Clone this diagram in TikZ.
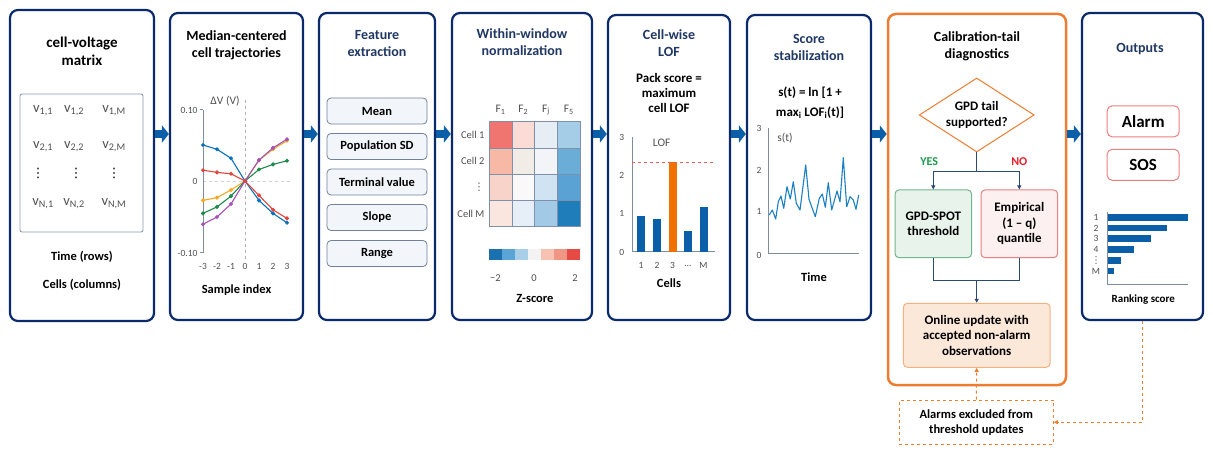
\documentclass[tikz,border=0pt]{standalone}
\usepackage{fontspec}
\setmainfont{Carlito}
\newfontfamily\symfont{DejaVu Sans}
\usetikzlibrary{arrows.meta,shapes.geometric}
\definecolor{panelnavy}{HTML}{0A2A6B}
\definecolor{titlenavy}{HTML}{1F3864}
\definecolor{flowblue}{HTML}{0B5EA8}
\definecolor{flownavy}{HTML}{2B4A72}
\definecolor{panelorange}{HTML}{ED7D31}
\definecolor{axisgrey}{HTML}{7F8CA0}
\definecolor{tickgrey}{HTML}{505050}
\definecolor{gridgrey}{HTML}{7E90AA}
\definecolor{matedge}{HTML}{8C9BB0}
\definecolor{featedge}{HTML}{6F819C}
\definecolor{featfill}{HTML}{F2F6FA}
\definecolor{cblue}{HTML}{0A72BC}
\definecolor{cred}{HTML}{E4453D}
\definecolor{corange}{HTML}{F7A823}
\definecolor{cgreen}{HTML}{1E8A4C}
\definecolor{cpurple}{HTML}{A452B8}
\definecolor{barorange}{HTML}{F07000}
\definecolor{lofred}{HTML}{EE5A5A}
\definecolor{scoreblue}{HTML}{1A80C4}
\definecolor{yesgreen}{HTML}{1E9A50}
\definecolor{nored}{HTML}{E8202A}
\definecolor{spotfill}{HTML}{E7F3EB}
\definecolor{spotedge}{HTML}{72B58B}
\definecolor{empfill}{HTML}{FDF0F0}
\definecolor{empedge}{HTML}{EC7F7F}
\definecolor{updfill}{HTML}{FCE8D8}
\definecolor{updedge}{HTML}{F4B183}
\definecolor{alarmred}{HTML}{EE8080}

\begin{document}
\begin{tikzpicture}[x=1pt,y=-1pt,font=\fontsize{11}{13}\selectfont]

%
% Styles
%
\tikzstyle{panel} = [draw=panelnavy,line width=2.2pt,rounded corners=8pt,fill=white,inner sep=0pt]
\tikzstyle{title} = [align=center,text=titlenavy,font=\fontsize{14}{17}\selectfont\bfseries]
\tikzstyle{entry} = [text=tickgrey,inner sep=1pt,font=\fontsize{14.5}{16}\selectfont]
\tikzstyle{lbl} = [font=\fontsize{12.5}{14}\selectfont\bfseries]
\tikzstyle{tick} = [text=tickgrey,font=\fontsize{9.5}{11}\selectfont]
\tikzstyle{axis} = [draw=axisgrey,line width=1pt]
\tikzstyle{zeroline} = [draw=gray!60,dashed,line width=0.7pt]
\tikzstyle{feat} = [draw=featedge,fill=featfill,rounded corners=4pt,line width=0.8pt,minimum width=100,minimum height=26,font=\fontsize{12.5}{14}\selectfont\bfseries]
\tikzstyle{heatlbl} = [text=tickgrey,font=\fontsize{10.5}{12}\selectfont]
\tikzstyle{blockarrow} = [draw=flowblue,line width=8pt,-{Triangle[length=7pt,width=17pt]}]
\tikzstyle{flow} = [draw=flownavy,line width=1.2pt]
\tikzstyle{dashline} = [draw=panelorange,dashed,line width=1pt]
\tikzstyle{step7} = [rounded corners=4pt,line width=1pt,align=center,font=\fontsize{13}{15.5}\selectfont\bfseries]
\tikzstyle{outbox} = [draw=alarmred,line width=1pt,rounded corners=5pt,minimum width=72,minimum height=31,font=\fontsize{17}{18}\selectfont\bfseries]
\tikzset{trace/.style={draw=#1,line width=1.1pt,mark=*,mark size=1.4pt,mark options={fill=#1,draw=#1}}}

\useasboundingbox (0,0) rectangle (1213,454);

% panels
\node[panel,minimum width=144,minimum height=311] (p1) at (82,165.5) {};
\node[panel,minimum width=133,minimum height=307] (p2) at (236.5,166.5) {};
\node[panel,minimum width=116,minimum height=307] (p3) at (377,166.5) {};
\node[panel,minimum width=140,minimum height=307] (p4) at (522,166.5) {};
\node[panel,minimum width=122,minimum height=305] (p5) at (669,167.5) {};
\node[panel,minimum width=124,minimum height=305] (p6) at (809,167.5) {};
\node[panel,draw=panelorange,line width=2.5pt,minimum width=178,minimum height=371] (p7) at (977,199.5) {};
\node[panel,minimum width=121,minimum height=307] (p8) at (1142.5,166.5) {};

% arrows between panels
\coordinate (arow) at (0,134);
\foreach \a/\b in {p1/p2,p2/p3,p3/p4,p4/p5,p5/p6,p6/p7,p7/p8}
  \draw[blockarrow] (\a.east |- arow) -- (\b.west |- arow);

% 1: matrix
\node[title,text=black,font=\fontsize{15}{18}\selectfont\bfseries] (t1) at (82,51) {cell-voltage\\matrix};
\node[draw=matedge,line width=0.9pt,rounded corners=2pt,minimum width=123,minimum height=138] (mat) at (81.5,163) {};
\foreach \r/\y in {1/111,2/147,N/204}
  \foreach \k/\x in {1/43,2/74,M/114}
    \node[entry] (v\r\k) at (\x,\y) {v\textsubscript{\r,\k}};
\foreach \x [count=\k] in {38,76,114}
  \node[entry,inner sep=0pt,text=black,font=\symfont\fontsize{13}{13}\selectfont] (vd\k) at (\x,173) {⋮};
\node[lbl] (rows) at (82,257) {Time (rows)};
\node[lbl] (cols) at (82,285) {Cells (columns)};

% 2: trajectories
\node[title,text=black] (t2) at (236.5,45) {Median-centered\\cell trajectories};
\draw[zeroline] (245,100) -- (245,260);
\draw[zeroline,draw=gray!35] (203,181) -- (292,181);
\draw[axis] (203,110) -- (203,253);
\draw[axis] (200,110) -- (203,110);
\draw[axis] (200,253) -- (203,253);
\node[tick,anchor=east] (y10) at (201,110) {0.10};
\node[tick,anchor=east] (y0) at (201,181) {0};
\node[tick,anchor=east] (ym10) at (201,253) {-0.10};
\node[tick,font=\fontsize{11.5}{13}\selectfont] (dv) at (225,101) {ΔV (V)};
\foreach \i in {-3,...,3}
  \node[tick] (sx\i) at (245+14*\i,266) {\i};
\foreach \clr/\a/\b/\cc/\e/\f/\g in {corange/200.4/197.6/190/160.1/149.3/140.7,
    cgreen/213.4/206.9/196.1/169.5/164.4/160.8,
    cblue/145/149.3/158.3/200.4/213.4/222.8,
    cpurple/224.2/217/204/160.1/147.9/139.2,
    cred/170.2/172.4/173.8/195.4/209.8/218.4}
  \draw[trace=\clr] plot coordinates {(203,\a) (217,\b) (231,\cc) (245,181) (259,\e) (273,\f) (287,\g)};
\node[lbl] (sidx) at (236.5,290) {Sample index};

% 3: features
\node[title] (t3) at (377,43.5) {Feature\\extraction};
\foreach \y/\n/\t in {111/mean/Mean,146.5/sd/Population SD,182/term/Terminal value,217.5/slope/Slope,253.5/range/Range}
  \node[feat] (\n) at (377,\y) {\t};

% 4: heatmap
\node[title] (t4) at (522,42.5) {Within-window\\normalization};
\foreach \v [count=\i from 0] in {F07470,FADBD5,E6EDF5,A5CDE8,F7B9A6,F1ECE6,F2F4F8,6AAED8,F8D3CA,F9F9F9,D0E3F2,5AA2D3,FAE6DE,E6EFF8,A2C9E5,1F7DBA}{
  \pgfmathtruncatemacro\hrow{\i/4}
  \pgfmathtruncatemacro\hcol{mod(\i,4)}
  \definecolor{hm}{HTML}{\v}
  \filldraw[fill=hm,draw=gridgrey,line width=0.6pt] (489.3+22.7*\hcol,121.7+26.25*\hrow) rectangle ++(22.7,26.25);
}
\draw[gridgrey,line width=0.8pt] (489.3,121.7) rectangle (580,226.7);
\foreach \t [count=\k from 0] in {F\textsubscript{1},F\textsubscript{2},F\textsubscript{j},F\textsubscript{5}}
  \node[heatlbl,font=\fontsize{11.5}{13}\selectfont] (f\k) at (500.6+22.7*\k,110) {\t};
\foreach \t/\y [count=\k] in {Cell 1/134.8,Cell 2/161,{{\symfont ⋮}}/187.3,Cell M/213.5}
  \node[heatlbl,anchor=east] (c\k) at (488,\y) {\t};
\foreach \v [count=\i from 0] in {1B70B0,5AA5D5,A8CEE8,F3F3F3,F8C2B2,F19585,E64A45}{
  \definecolor{cb}{HTML}{\v}
  \fill[cb] (489+13*\i,249) rectangle ++(13,11);
}
\node[heatlbl] (zm2) at (495.5,278) {−2};
\node[heatlbl] (z0) at (534,278) {0};
\node[heatlbl] (z2) at (575,278) {2};
\node[lbl] (zs) at (535,298) {Z-score};

% 5: LOF bars
\node[title] (t5) at (669,43.5) {Cell-wise\\LOF};
\node[align=center,font=\fontsize{13}{15}\selectfont\bfseries] (pack) at (669,93) {Pack score =\\maximum\\cell LOF};
\draw[axis] (632,137) -- (632,252) -- (715,252);
\foreach \k in {0,...,3}
  \node[tick] (l\k) at (621.7,252-38.3*\k) {\k};
\foreach \x/\h/\t/\clr [count=\k] in {641/0.95/1/flowblue,657/0.86/2/flowblue,672.5/2.35/3/barorange,688/0.55/\ldots/flowblue,703.5/1.18/M/flowblue}{
  \fill[\clr] (\x-4,252) rectangle (\x+4,252-38.3*\h);
  \node[tick] (bx\k) at (\x,265.7) {\t};
}
\draw[dashed,draw=lofred,line width=0.9pt] (632,162) -- (715,162);
\node[tick,font=\fontsize{11.5}{13}\selectfont] (lof) at (661.7,143.3) {LOF};
\node[lbl] (cells) at (669,283) {Cells};

% 6: score
\node[title] (t6) at (809,47) {Score\\stabilization};
\node[align=center,font=\fontsize{13}{20}\selectfont\bfseries] (stab) at (810,103) {s(t) = ln [1 +\\max\textsubscript{i} LOF\textsubscript{i}(t)]};
\draw[axis] (768.3,128) -- (768.3,254) -- (859.3,254);
\foreach \k/\y in {0/255,1/211.7,2/170,3/128}
  \node[tick] (s\k) at (759,\y) {\k};
\node[tick,font=\fontsize{11.5}{13}\selectfont] (st) at (785,138) {s(t)};
\draw[scoreblue,line width=1.1pt,line join=round] plot coordinates {(769.3,215) (772.3,210) (775.7,219) (778.3,201.7) (781,196) (783.7,208.3) (787,186.7) (790.3,199) (793.3,181.7) (796.3,203.3) (800,210) (805.7,165) (809,199.3) (815.3,216.7) (819.3,198.3) (822.3,194) (825.3,207.3) (828.3,182.7) (831.7,210) (837,191) (840,201.7) (843.3,157.7) (846.7,206.7) (850,196.7) (853.3,200) (856,209.3) (858.7,195)};
\node[lbl] (time) at (814,276.7) {Time};

% 7: calibration tail
\node[title,text=black] (t7) at (977,46) {Calibration-tail\\diagnostics};
\node[diamond,draw=panelorange,fill=white,line width=1pt,aspect=1.55,inner sep=0pt,minimum width=115,minimum height=74,align=center,font=\fontsize{13}{15.5}\selectfont\bfseries] (tail) at (976.7,115) {GPD tail\\supported?};
\node[step7,draw=spotedge,fill=spotfill,minimum width=76.6,minimum height=67.7] (spot) at (933.3,223.8) {GPD-SPOT\\threshold};
\node[step7,draw=empedge,fill=empfill,minimum width=76.6,minimum height=67.7] (emp) at (1019.3,223.8) {Empirical\\(1 – q)\\quantile};
\node[step7,draw=updedge,fill=updfill,minimum width=146.7,minimum height=64] (upd) at (976.7,335.3) {Online update with\\accepted non-alarm\\observations};
\node[step7,draw=panelorange,dashed,fill=white,rounded corners=0pt,font=\fontsize{12.5}{15}\selectfont\bfseries,minimum width=154,minimum height=44.3] (excl) at (976.3,422.2) {Alarms excluded from\\threshold updates};
\node[text=yesgreen,font=\fontsize{12}{14}\selectfont\bfseries] (yes) at (929.3,161.7) {YES};
\node[text=nored,font=\fontsize{12}{14}\selectfont\bfseries] (no) at (1019.3,161.7) {NO};
\coordinate (split) at (976.7,171.7);
\coordinate (merge) at (976.7,280.7);
\draw[flow] (tail.south) -- (split);
\draw[flow,-{Triangle[length=4pt,width=4pt]}] (split) -| (spot.north);
\draw[flow,-{Triangle[length=4pt,width=4pt]}] (split) -| (emp.north);
\draw[flow] (spot.south) |- (merge) -| (emp.south);
\draw[flow,-{Triangle[length=4pt,width=4pt]}] (merge) -- (upd.north);
\draw[dashline,-{Triangle[length=4pt,width=4pt]}] (excl.north) -- (upd.south);
\draw[dashline,-{Triangle[length=4pt,width=4pt]}] (p8.south) |- (excl.east);

% 8: outputs
\node[title] (t8) at (1140,49) {Outputs};
\node[outbox] (alarm) at (1143.2,121.3) {Alarm};
\node[outbox] (sos) at (1143.2,164.8) {SOS};
\draw[axis] (1107.7,212) -- (1107.7,285) -- (1188.3,285);
\foreach \y/\r/\t [count=\k] in {217.3/1187.7/1,228/1167/2,238.7/1151/3,249.3/1133.7/4,260.3/1120.7/{{\symfont ⋮}},271/1113.7/M}{
  \fill[flowblue] (1108.2,\y-3.4) rectangle (\r,\y+3.4);
  \node[tick,inner sep=0.5pt] (rk\k) at (1096,\y) {\t};
}
\node[lbl,font=\fontsize{11}{12}\selectfont\bfseries] (rank) at (1143.3,300) {Ranking score};

\end{tikzpicture}
\end{document}
